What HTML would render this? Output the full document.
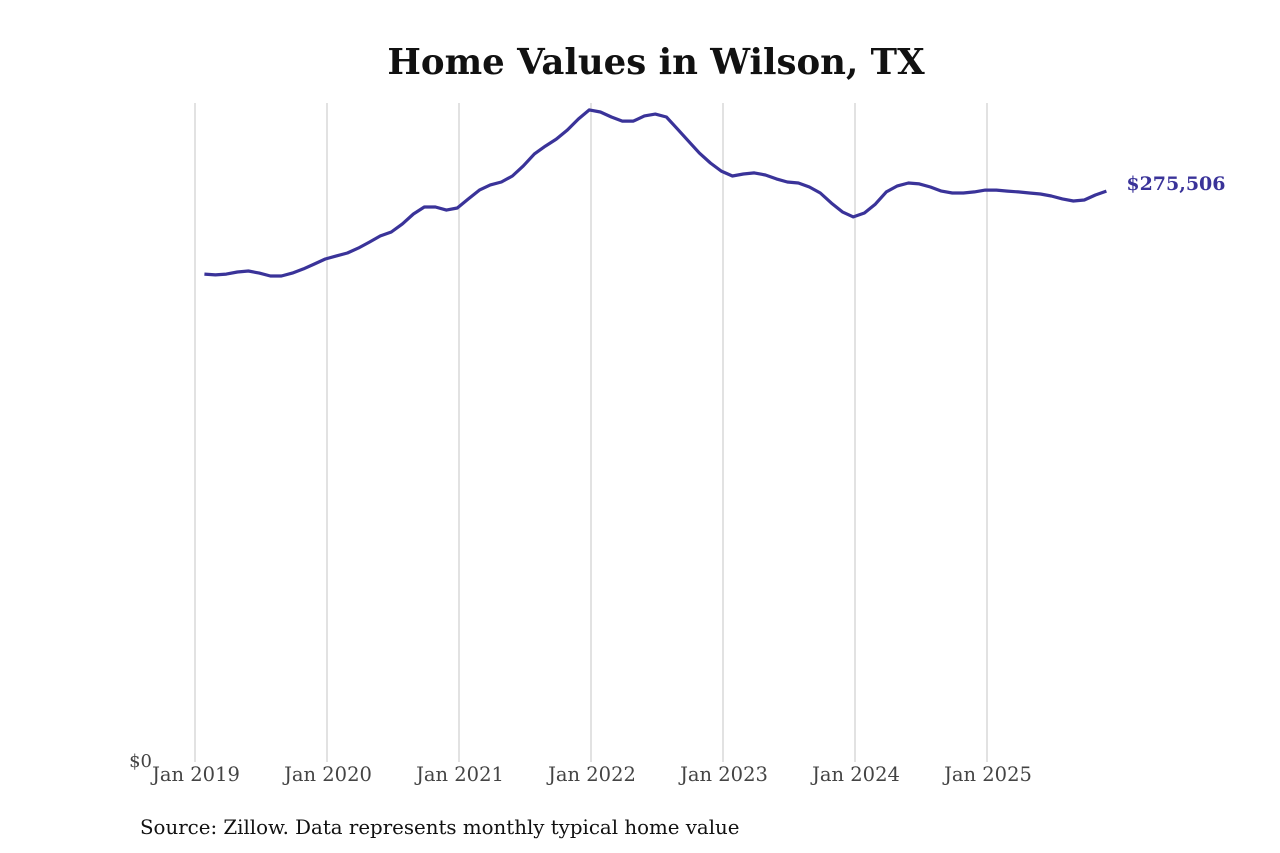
<!DOCTYPE html>
<html><head><meta charset="utf-8"><style>
html,body{margin:0;padding:0;background:#fff;}
svg{display:block;font-family:"DejaVu Serif","Liberation Serif",serif;}
</style></head><body>
<svg id="chart" width="1280" height="853" viewBox="0 0 1280 853">
<rect width="1280" height="853" fill="#fff"/>
<text x="656" y="74" text-anchor="middle" font-size="35.5" font-weight="bold" fill="#111">Home Values in Wilson, TX</text>
<g id="grid"></g>
<g id="xlabels"></g>
<text x="152" y="767" text-anchor="end" font-size="18" fill="#444">$0</text>
<path id="line" fill="none" stroke="#3a3399" stroke-width="3.2" stroke-linejoin="round"/>
<text id="endlabel" font-size="19" font-weight="bold" fill="#3a3399"></text>
<text x="140" y="834" font-size="19.8" fill="#111">Source: Zillow. Data represents monthly typical home value</text>
</svg>
<script>
const years = [2019,2020,2021,2022,2023,2024,2025];
const tickLabels = ["Jan 2019","Jan 2020","Jan 2021","Jan 2022","Jan 2023","Jan 2024","Jan 2025"];
const startYear = 2019, startMonth = 0;
const values = [235.3,234.9,235.3,236.3,236.8,235.8,234.4,234.4,235.8,237.8,240.2,242.6,
244.1,245.5,247.9,250.8,253.8,255.7,259.6,264.4,267.8,267.8,266.3,267.3,
271.7,276.0,278.5,279.9,282.8,287.7,293.5,297.3,300.7,305.1,310.4,314.8,
313.8,311.4,309.4,309.4,311.9,312.8,311.4,305.6,299.8,293.9,289.1,285.2,
282.8,283.8,284.3,283.3,281.4,279.9,279.4,277.5,274.6,269.7,265.4,263.0,
264.9,269.2,275.1,278.0,279.4,279.0,277.5,275.5,274.6,274.6,275.1,276.0,
276.0,275.5,275.1,274.6,274.1,273.1,271.7,270.7,271.2,273.6,275.506];
const NS="http://www.w3.org/2000/svg";
function xScale(t){return 195 + (t-2019)*132;}
function yScale(v){return 760 - v*2.065;}
const grid=document.getElementById('grid'), xl=document.getElementById('xlabels');
years.forEach((y,i)=>{
  const l=document.createElementNS(NS,'line');
  l.setAttribute('x1',xScale(y));l.setAttribute('x2',xScale(y));
  l.setAttribute('y1',103);l.setAttribute('y2',762);
  l.setAttribute('stroke','#c4c4c4');l.setAttribute('stroke-width','1');
  
  
  grid.appendChild(l);
  const t=document.createElementNS(NS,'text');
  t.setAttribute('x',xScale(y)+1);t.setAttribute('y',781);
  t.setAttribute('text-anchor','middle');t.setAttribute('font-size','19.5');t.setAttribute('fill','#444');
  t.textContent=tickLabels[i];
  
  
  xl.appendChild(t);
});
let d='';
values.forEach((v,i)=>{
  const t=startYear+(startMonth+i+0.85)/12;
  d+=(i?'L':'M')+xScale(t).toFixed(1)+','+yScale(v).toFixed(1);
});
document.getElementById('line').setAttribute('d',d);
const last=values[values.length-1];
const lt=startYear+(startMonth+values.length-1+0.85)/12;
const el=document.getElementById('endlabel');
el.setAttribute('x',xScale(lt)+20);el.setAttribute('y',yScale(last)-1);
el.textContent='$'+Math.round(last*1000).toLocaleString('en-US');
</script>
</body></html>
